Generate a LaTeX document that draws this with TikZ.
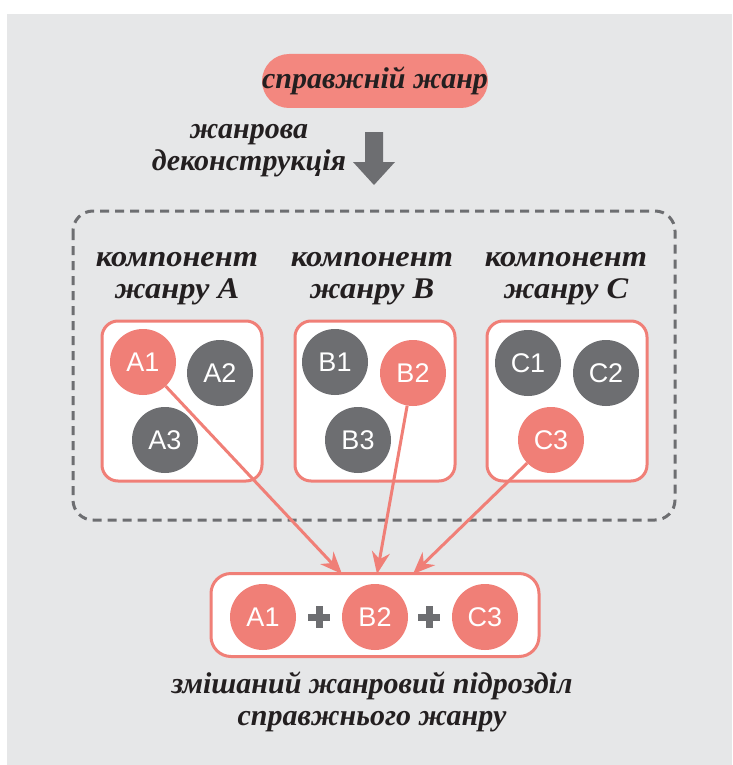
\documentclass[tikz,border=0pt]{standalone}
\usepackage{fontspec}
\setmainfont{Liberation Serif}
\newfontfamily\ballfont{Liberation Sans}
\usetikzlibrary{arrows.meta}
\definecolor{salmon}{HTML}{F07F77}
\definecolor{pill}{HTML}{F3877F}
\definecolor{ink}{HTML}{231F20}
\definecolor{slate}{HTML}{6D6E71}
\definecolor{paper}{HTML}{E6E7E8}
\tikzset{
  heading/.style={font=\fontsize{30}{32}\selectfont\bfseries\itshape, text=ink, align=center},
  wideheading/.style={heading, font=\fontsize{30}{32}\selectfont\bfseries\itshape\addfontfeatures{FakeStretch=1.08}},
  genrebox/.style={draw=salmon, line width=3pt, fill=white, rounded corners=16pt, minimum width=160pt, minimum height=160pt},
  ball/.style={circle, minimum size=66pt, inner sep=0pt, text=white, font=\ballfont\fontsize{27}{27}\selectfont},
  hotball/.style={ball, fill=salmon},
  coldball/.style={ball, fill=slate},
  pick/.style={draw=salmon, line width=3pt, -{Stealth[length=22pt,width=18pt,inset=7pt]}},
}
\begin{document}
\begin{tikzpicture}[x=1pt,y=-1pt]
    \useasboundingbox (0,0) rectangle (732,765);
    % Hintergrund
    \fill[paper] (7,14) rectangle (732,765);
    % true genre
    \node[heading, fill=pill, rounded corners=27pt, minimum width=220pt, minimum height=54pt, inner sep=0pt] (genre) at (375,81) {справжній жанр};
    \node[heading] (decon) at (249,151) {жанрова\\деконструкція};
    % thick gray arrow
    \fill[slate] (365,132) -- (383,132) -- (383,162) -- (395,162) -- (374,185) -- (353,162) -- (365,162) -- cycle;
    % dashed frame
    \draw[slate, line width=3pt, dash pattern=on 9pt off 6pt, rounded corners=20pt] (73,211) rectangle (675,520);
    % component headings
    \node[wideheading] (headA) at (177,279) {компонент\\жанру A};
    \node[wideheading] (headB) at (372,279) {компонент\\жанру B};
    \node[wideheading] (headC) at (566,279) {компонент\\жанру C};
    % component boxes
    \node[genrebox] (boxA) at (182,401) {};
    \node[genrebox] (boxB) at (375,401) {};
    \node[genrebox] (boxC) at (567,401) {};
    % balls A
    \node[hotball] (a1) at (143,362) {A1};
    \node[coldball] (a2) at (220,373) {A2};
    \node[coldball] (a3) at (165,440) {A3};
    % balls B
    \node[coldball] (b1) at (335,362) {B1};
    \node[hotball] (b2) at (413,373) {B2};
    \node[coldball] (b3) at (358,440) {B3};
    % balls C
    \node[coldball] (c1) at (528,363) {C1};
    \node[coldball] (c2) at (606,373) {C2};
    \node[hotball] (c3) at (551,440) {C3};
    % mixed subgenre
    \node[genrebox, minimum width=328pt, minimum height=83pt, rounded corners=20pt] (mix) at (375,615) {};
    \node[hotball] (m1) at (263,617) {A1};
    \node[hotball] (m2) at (375,617) {B2};
    \node[hotball] (m3) at (485,617) {C3};
    % plus signs
    \draw[slate, line width=7pt] (308,617) -- (330,617) (319,606) -- (319,628);
    \draw[slate, line width=7pt] (418,617) -- (440,617) (429,606) -- (429,628);
    % arrows
    \coordinate (inA) at (342,574);
    \coordinate (inB) at (377,574);
    \coordinate (inC) at (413,574);
    \draw[pick] (a1) -- (inA);
    \draw[pick] (b2) -- (inB);
    \draw[pick] (c3) -- (inC);
    % caption
    \node[heading] (mixed) at (372,702) {змішаний жанровий підрозділ\\справжнього жанру};
\end{tikzpicture}
\end{document}
